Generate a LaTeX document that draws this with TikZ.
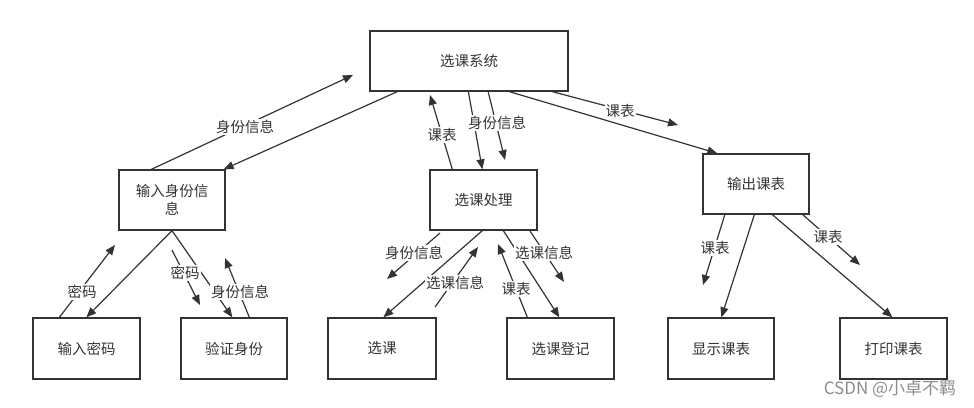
\documentclass[tikz,border=0pt]{standalone}
\usepackage{fontspec}
\setmainfont{Noto Sans CJK SC}
\usetikzlibrary{arrows.meta}
\definecolor{ink}{HTML}{333333}
\tikzset{
  box/.style={draw=ink, line width=1.3pt, text=ink, font=\fontsize{14.5}{18.5}\selectfont, inner sep=0pt, align=center},
  conn/.style={draw=ink, line width=1.2pt, -{Triangle[length=10pt,width=8pt]}},
  lbl/.style={fill=white, text=ink, font=\fontsize{14.5}{17}\selectfont, inner sep=1pt},
}
\begin{document}
\begin{tikzpicture}[x=1pt,y=-1pt]
\useasboundingbox (0,0) rectangle (974,407);
% boxes
\node[box, minimum width=198pt, minimum height=60pt] (sys) at (469,61) {选课系统};
\node[box, minimum width=106pt, minimum height=60pt] (idin) at (172,200) {输入身份信\\息};
\node[box, minimum width=107pt, minimum height=60pt] (proc) at (483.5,200) {选课处理};
\node[box, minimum width=106pt, minimum height=60pt] (out) at (756,184) {输出课表};
\node[box, minimum width=107pt, minimum height=61pt] (pwd) at (86.5,348.5) {输入密码};
\node[box, minimum width=106pt, minimum height=61pt] (ver) at (234,348.5) {验证身份};
\node[box, minimum width=108pt, minimum height=61pt] (sel) at (382,348.5) {选课};
\node[box, minimum width=107pt, minimum height=61pt] (reg) at (560.5,348.5) {选课登记};
\node[box, minimum width=106pt, minimum height=61pt] (show) at (721,348.5) {显示课表};
\node[box, minimum width=107pt, minimum height=61pt] (print) at (893.5,348.5) {打印课表};

% free ends of flow-label arrows
\coordinate (a1) at (353,75);
\coordinate (a2s) at (488,91);
\coordinate (a2e) at (505,160);
\coordinate (a3e) at (430,95);
\coordinate (a4e) at (678,125);
\coordinate (b1e) at (115,245);
\coordinate (b2s) at (172,250);
\coordinate (b2e) at (200,305);
\coordinate (b3e) at (225,258);
\coordinate (c1s) at (440,233);
\coordinate (c1e) at (387,279);
\coordinate (c2s) at (435,307);
\coordinate (c2e) at (478,247);
\coordinate (c3e) at (498,244);
\coordinate (c4s) at (530,231);
\coordinate (c4e) at (564,282);
\coordinate (d1s) at (725,214);
\coordinate (d1e) at (703,285);
\coordinate (d2s) at (802,214);
\coordinate (d2e) at (860,265);

% main connectors
\draw[conn] ([xshift=28pt]sys.south west) -- ([xshift=-2pt]idin.north east);
\draw[conn] ([xshift=99pt]sys.south west) -- ([xshift=53pt]proc.north west);
\draw[conn] ([xshift=140pt]sys.south west) -- ([xshift=15pt]out.north west);
\draw[conn] (idin.south) -- ([xshift=54pt]pwd.north west);
\draw[conn] (idin.south) -- ([xshift=52pt]ver.north west);
\draw[conn] ([xshift=53pt]proc.south west) -- ([xshift=56pt]sel.north west);
\draw[conn] ([xshift=74pt]proc.south west) -- ([xshift=53pt]reg.north west);
\draw[conn] ([xshift=52pt]out.south west) -- ([xshift=54pt]show.north west);
\draw[conn] ([xshift=70pt]out.south west) -- ([xshift=53pt]print.north west);

% flow-label arrows
\draw[conn] ([xshift=33pt]idin.north west) -- (a1);
\draw[conn] (a2s) -- (a2e);
\draw[conn] ([xshift=23pt]proc.north west) -- (a3e);
\draw[conn] ([xshift=183pt]sys.south west) -- (a4e);
\draw[conn] ([xshift=27pt]pwd.north west) -- (b1e);
\draw[conn] (b2s) -- (b2e);
\draw[conn] ([xshift=69pt]ver.north west) -- (b3e);
\draw[conn] (c1s) -- (c1e);
\draw[conn] (c2s) -- (c2e);
\draw[conn] ([xshift=21pt]reg.north west) -- (c3e);
\draw[conn] (c4s) -- (c4e);
\draw[conn] (d1s) -- (d1e);
\draw[conn] (d2s) -- (d2e);

% labels
\node[lbl] (l1) at (245,127) {身份信息};
\node[lbl] (l2) at (497,123) {身份信息};
\node[lbl] (l3) at (442,135) {课表};
\node[lbl] (l4) at (620,111) {课表};
\node[lbl] (l5) at (82,292) {密码};
\node[lbl] (l6) at (185,273) {密码};
\node[lbl] (l7) at (240,292) {身份信息};
\node[lbl] (l8) at (414,253) {身份信息};
\node[lbl] (l9) at (455,283) {选课信息};
\node[lbl] (l10) at (516,289) {课表};
\node[lbl] (l11) at (544,253) {选课信息};
\node[lbl] (l12) at (715,248) {课表};
\node[lbl] (l13) at (828,237) {课表};

% watermark
\node[text=black!45, font=\fontsize{17}{19}\selectfont, inner sep=0pt] (wm) at (890,389) {CSDN @小卓不羁};
\end{tikzpicture}
\end{document}
